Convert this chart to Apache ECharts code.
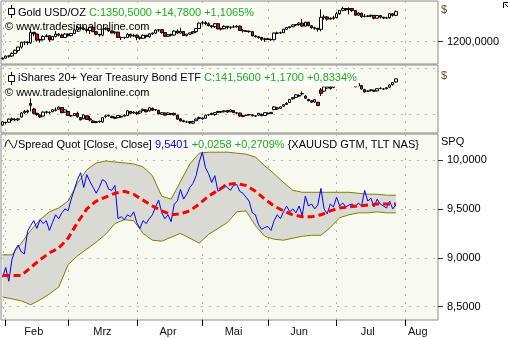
<!DOCTYPE html>
<html><head><meta charset="utf-8">
<script src="https://cdn.jsdelivr.net/npm/echarts@6/dist/echarts.min.js"></script>
<style>html,body{margin:0;padding:0;background:#fff}#c{width:509px;height:339px}</style>
</head><body><div id="c"></div>
<script>
// ---------- categories ----------
const holidays = ['2016-02-15','2016-03-25','2016-05-30','2016-07-04'];
function fmtDate(t){ return new Date(t).toISOString().slice(0,10); }
const tradingDays = [];
for (let t = Date.UTC(2016,0,29); t <= Date.UTC(2016,6,29); t += 86400000) {
  const wd = new Date(t).getUTCDay(), s = fmtDate(t);
  if (wd !== 0 && wd !== 6 && holidays.indexOf(s) < 0) tradingDays.push(s);
}
const futureDays = [];
for (let t = Date.UTC(2016,6,30); t <= Date.UTC(2016,7,11); t += 86400000) futureDays.push(fmtDate(t));
const categories = tradingDays.concat(futureDays);

const monthStarts = ['2016-02-01','2016-03-01','2016-04-01','2016-05-02','2016-06-01','2016-07-01','2016-08-01'];
const monthLabels = {'2016-02-12':'Feb','2016-03-16':'Mrz','2016-04-15':'Apr','2016-05-16':'Mai','2016-06-15':'Jun','2016-07-18':'Jul','2016-08-05':'Aug'};

// ---------- Gold USD/OZ ----------
const goldOpen = [1114,1117,1128,1128,1141,1156,1173,1197,1198,1194,1247,1238,1208,1210,1226,1230,1209,1226,1238,1233,1221,
1238,1230,1241,1259,1270,1267,1262,1256,1272,1250,1237,1233,1263,1266,1254,1244,1248,1221,1220,1221,1237,1228,
1232,1222,1217,1232,1225,1239,1243,1258,1260,1246,1227,1235,1233,1253,1243,1251,1231,1238,1244,1250,1266,
1293,1295,1290,1280,1275,1290,1264,1265,1277,1272,1273,1274,1278,1256,1254,1252,1250,1229,1225,1221,1212,
1214,1211,1210,1243,1243,1245,1262,1271,1275,1284,1286,1293,1278,1298,1280,1270,1267,1262,1322,1324,1313,1317,
1320,1340,1357,1366,1360,1366,1356,1333,1343,1325,1327,1329,1332,1318,1331,1323,1318,1320,1340,1332];
const goldHigh = [1121,1130,1131,1146,1160,1174,1200,1200,1201,1263,1248,1240,1215,1232,1237,1231,1229,1253,1244,1240,1243,
1241,1244,1262,1278,1280,1277,1264,1274,1276,1254,1238,1263,1272,1267,1256,1252,1249,1226,1225,1244,1240,1240,
1236,1225,1236,1233,1243,1246,1261,1263,1262,1248,1237,1240,1257,1262,1270,1254,1238,1245,1252,1268,1296,
1304,1303,1297,1283,1294,1291,1270,1282,1278,1276,1283,1284,1281,1262,1257,1256,1251,1232,1227,1224,1219,
1219,1216,1246,1250,1250,1264,1274,1277,1287,1288,1298,1315,1299,1299,1283,1275,1268,1362,1335,1327,1323,1329,
1350,1359,1375,1369,1372,1368,1357,1348,1345,1338,1333,1336,1332,1334,1332,1323,1325,1342,1343,1356];
const goldLow = [1111,1115,1120,1123,1139,1146,1165,1183,1183,1190,1227,1200,1195,1206,1222,1200,1208,1222,1226,1219,1218,
1225,1227,1238,1253,1262,1257,1245,1239,1248,1232,1225,1227,1257,1250,1241,1237,1220,1208,1213,1218,1220,1225,
1207,1210,1213,1216,1220,1233,1240,1249,1240,1225,1225,1227,1231,1240,1242,1230,1226,1235,1238,1243,1264,
1285,1282,1277,1267,1268,1262,1256,1262,1263,1263,1268,1271,1254,1246,1248,1245,1227,1221,1215,1205,1199,
1209,1204,1207,1238,1240,1243,1258,1266,1273,1278,1280,1275,1276,1278,1265,1260,1250,1252,1310,1306,1311,1310,
1318,1335,1352,1354,1337,1350,1330,1330,1320,1324,1323,1323,1312,1316,1316,1313,1314,1315,1326,1330];
const goldClose = [1118,1128,1128,1141,1157,1173,1197,1198,1194,1247,1239,1208,1210,1226,1230,1209,1226,1238,1233,1221,1238,
1230,1241,1259,1270,1267,1262,1256,1272,1250,1237,1233,1263,1266,1254,1244,1248,1221,1220,1221,1237,1228,1232,
1222,1217,1232,1225,1239,1243,1258,1260,1246,1227,1235,1233,1253,1243,1251,1231,1238,1244,1250,1266,1293,
1295,1290,1280,1275,1290,1264,1265,1277,1272,1273,1274,1278,1256,1254,1252,1250,1229,1225,1221,1212,1214,
1211,1210,1243,1243,1245,1262,1271,1275,1284,1286,1293,1278,1298,1280,1270,1267,1262,1322,1324,1313,1317,1320,
1340,1357,1366,1360,1366,1356,1333,1343,1325,1327,1329,1332,1318,1331,1323,1318,1320,1340,1332,1350.5];

// ---------- iShares 20+ Year Treasury Bond ETF ----------
const tltOpen = [126.6,127.4,127.5,128.6,128.3,128.3,129.2,130.6,131.2,133.6,131.8,130.4,129.8,129.5,130.7,130.7,130.9,131.4,131.7,132.3,130.8,
131.0,129.6,129.7,130.4,129.0,128.6,129.6,128.6,127.9,127.4,127.8,127.6,129.4,129.6,129.4,129.1,129.0,129.2,129.5,129.7,131.0,130.5,
130.6,130.5,131.3,131.5,131.2,132.0,131.6,131.4,130.1,130.5,130.0,130.3,130.4,129.8,128.6,128.0,127.6,127.7,127.2,128.0,128.7,
128.9,128.8,129.9,130.0,130.0,130.7,131.0,130.9,131.3,130.9,131.3,130.5,130.5,129.4,129.7,129.9,129.9,129.6,129.8,130.1,129.7,
130.4,130.3,131.6,132.2,132.0,132.7,133.6,133.9,135.1,135.6,136.0,136.7,136.0,134.9,134.5,134.1,134.0,138.0,137.6,138.6,139.2,138.8,
140.0,141.6,142.9,143.2,143.5,142.7,140.6,139.3,139.4,138.1,137.6,137.9,137.9,137.7,138.5,138.3,138.4,138.9,139.7,140.6];
const tltHigh = [127.9,127.6,128.7,129.0,128.9,128.9,130.8,131.5,131.6,135.2,132.2,130.6,130.0,131.0,131.2,131.0,131.8,132.3,132.6,132.4,131.7,
131.2,129.9,130.5,130.9,129.2,130.0,129.7,129.5,128.2,127.9,128.0,129.2,129.8,130.0,129.6,129.3,129.8,129.7,130.0,131.3,131.1,131.0,
131.0,131.2,131.9,131.6,132.5,132.3,131.8,131.5,130.8,130.6,130.7,130.4,130.6,129.9,128.9,128.3,128.0,127.8,128.0,128.7,129.3,
129.0,130.0,130.2,130.6,130.8,131.2,131.1,131.4,131.4,131.7,131.4,130.8,130.6,129.8,130.0,130.2,130.0,129.8,130.5,130.3,130.7,
130.7,130.8,132.7,132.3,132.6,133.3,134.1,135.0,135.6,136.5,136.6,137.5,136.3,135.1,134.7,134.9,134.1,138.6,139.2,139.3,139.5,140.3,
141.1,142.9,143.6,143.4,144.0,142.9,140.8,140.3,139.6,138.4,137.9,138.2,138.0,138.6,138.8,138.6,138.9,139.8,140.5,141.7];
const tltLow = [126.3,126.8,127.3,127.9,127.8,127.9,129.0,130.2,130.4,131.0,130.1,129.6,128.9,129.4,130.3,130.2,130.8,131.0,131.5,130.4,130.6,
129.5,129.2,129.5,129.0,128.1,128.5,128.3,127.8,127.2,127.2,127.3,127.3,128.8,129.3,128.8,128.5,128.8,129.0,129.3,129.5,130.2,130.3,
129.8,130.3,131.0,130.7,131.0,131.2,131.2,130.1,129.9,129.7,129.9,129.8,129.7,128.3,127.8,127.5,127.2,126.9,126.9,127.9,128.4,
128.3,128.7,129.5,129.8,129.6,130.5,130.5,130.7,130.5,130.8,130.5,130.1,129.3,129.1,129.5,129.7,129.4,129.2,129.7,129.5,129.6,
130.0,130.2,131.4,131.5,131.9,132.5,133.1,133.8,134.8,135.4,135.7,136.2,135.2,134.3,133.8,133.8,132.8,136.0,137.4,138.4,138.1,138.6,
139.9,141.5,142.2,142.4,142.6,141.3,138.9,139.1,138.2,137.2,137.3,137.5,137.3,137.5,138.2,138.0,138.2,138.6,139.5,140.4];
const tltClose = [127.6,127.3,128.5,128.3,128.4,128.6,130.5,131.0,130.8,133.0,130.4,130.0,129.2,130.8,130.9,130.7,131.6,131.5,132.4,130.6,131.5,
129.7,129.6,130.3,129.3,128.3,129.9,128.4,128.2,127.4,127.7,127.7,129.0,129.5,129.8,129.0,128.8,129.7,129.4,129.8,131.2,130.4,130.8,
130.3,131.1,131.7,130.9,132.2,131.4,131.5,130.2,130.6,129.8,130.5,130.1,129.9,128.5,127.9,127.7,127.6,127.3,127.7,128.5,129.0,
128.6,129.8,129.9,130.4,130.6,131.0,130.8,131.2,130.8,131.5,130.6,130.6,129.5,129.6,129.8,130.0,129.6,129.5,130.4,129.6,130.6,
130.3,130.7,132.5,131.8,132.5,133.2,133.3,134.9,135.5,136.4,136.2,136.8,135.3,134.5,134.0,134.8,132.9,136.9,139.0,139.0,138.5,140.1,
140.9,142.8,143.0,142.8,143.3,141.5,139.0,140.1,138.3,137.3,137.6,138.0,137.6,138.4,138.5,138.3,138.7,139.6,140.4,141.6];

// ---------- Spread Quot ----------
const spread = [8.80,8.90,8.76,8.98,9.08,9.13,9.06,9.04,9.27,9.33,9.38,9.30,9.39,9.35,9.38,9.28,9.36,9.44,9.40,9.46,9.50,
9.48,9.60,9.70,9.80,9.87,9.72,9.85,9.78,9.72,9.66,9.72,9.80,9.78,9.70,9.69,9.74,9.40,9.42,9.39,9.44,9.42,9.47,
9.36,9.30,9.38,9.35,9.40,9.44,9.52,9.59,9.46,9.40,9.44,9.37,9.55,9.58,9.70,9.60,9.65,9.72,9.76,9.84,9.98,
10.08,9.92,9.86,9.77,9.84,9.68,9.70,9.75,9.72,9.69,9.74,9.75,9.68,9.66,9.62,9.58,9.46,9.44,9.34,9.29,9.31,
9.32,9.28,9.38,9.44,9.40,9.47,9.53,9.47,9.50,9.46,9.53,9.43,9.63,9.53,9.55,9.50,9.54,9.71,9.50,9.45,9.55,9.52,
9.62,9.53,9.56,9.52,9.54,9.55,9.52,9.56,9.53,9.69,9.58,9.61,9.52,9.60,9.55,9.53,9.51,9.58,9.50,9.54];

const bandDates = ['2016-01-29','2016-02-03','2016-02-08','2016-02-11','2016-02-17','2016-02-22','2016-02-25','2016-03-01','2016-03-04','2016-03-09','2016-03-14',
'2016-03-17','2016-03-22','2016-03-28','2016-03-31','2016-04-05','2016-04-08','2016-04-13','2016-04-18','2016-04-21','2016-04-26','2016-04-29',
'2016-05-04','2016-05-09','2016-05-12','2016-05-17','2016-05-20','2016-05-25','2016-05-31','2016-06-03','2016-06-08','2016-06-13','2016-06-16',
'2016-06-21','2016-06-24','2016-06-29','2016-07-05','2016-07-08','2016-07-13','2016-07-18','2016-07-21','2016-07-26','2016-07-29'];
const bandUpper = [9.03,9.03,9.15,9.28,9.39,9.47,9.51,9.58,9.76,9.90,9.97,9.99,9.98,9.97,9.96,9.93,9.84,9.63,9.60,9.78,9.96,10.07,
10.08,10.08,10.08,10.07,10.06,10.03,9.94,9.86,9.77,9.69,9.67,9.67,9.67,9.67,9.67,9.67,9.66,9.65,9.65,9.64,9.64];
const bandLower = [8.60,8.58,8.56,8.52,8.57,8.63,8.70,8.93,9.02,9.09,9.16,9.24,9.35,9.39,9.38,9.25,9.18,9.17,9.21,9.25,9.20,9.15,
9.24,9.30,9.36,9.47,9.48,9.33,9.22,9.19,9.18,9.20,9.22,9.23,9.23,9.31,9.41,9.44,9.46,9.46,9.47,9.46,9.46];
const bandMid = [8.82,8.82,8.82,8.90,8.98,9.05,9.10,9.20,9.36,9.50,9.58,9.62,9.66,9.68,9.65,9.59,9.53,9.48,9.44,9.45,9.48,9.55,
9.63,9.69,9.75,9.76,9.74,9.68,9.60,9.53,9.48,9.44,9.42,9.42,9.44,9.48,9.51,9.52,9.53,9.54,9.55,9.55,9.55];

const goldTicks = [1200];
const tltGrid = [130, 145];
const spreadTicks = [8.5, 9, 9.5, 10];

// ---------- chart ----------
const FONT = 'Liberation Sans';
const numFmt = v => v.toFixed(4).replace('.', ',');
const isMonthStart = (i, v) => monthStarts.indexOf(v) >= 0;
const dotted = {color: '#b4b4b4', width: 1, type: [2, 6]};
const gridBase = {left: 1, right: 71, show: true, backgroundColor: '#f8faf0', borderColor: '#8c8c8c', borderWidth: 1};

const xAxes = [0, 1, 2].map(i => ({
  type: 'category', gridIndex: i, data: categories, boundaryGap: true,
  axisLine: {show: false},
  axisTick: {show: i === 2, alignWithLabel: true, interval: isMonthStart, length: 6, lineStyle: {color: '#000'}},
  axisLabel: {show: i === 2, interval: (idx, v) => !!monthLabels[v], formatter: v => monthLabels[v] || '',
              color: '#111', fontFamily: FONT, fontSize: 11, margin: 6},
  splitLine: {show: true, interval: isMonthStart, alignWithLabel: true, lineStyle: dotted}
}));

const candleStyle = {color: '#ffffff', color0: '#e00000', borderColor: '#000000', borderColor0: '#000000', borderWidth: 1};

const option = {
  animation: false,
  backgroundColor: '#ffffff',
  textStyle: {fontFamily: FONT},
  grid: [
    Object.assign({top: 1, height: 63}, gridBase),
    Object.assign({top: 65, height: 68}, gridBase),
    Object.assign({top: 134, height: 186}, gridBase)
  ],
  xAxis: xAxes,
  yAxis: [
    {type: 'value', gridIndex: 0, position: 'right', min: 1088, max: 1404,
     axisLine: {show: false},
     axisTick: {show: true, customValues: goldTicks, length: 5, lineStyle: {color: '#333'}},
     axisLabel: {customValues: goldTicks, formatter: numFmt, color: '#000', fontFamily: FONT, fontSize: 11, margin: 9},
     splitLine: {show: true, lineStyle: dotted}},
    {type: 'value', gridIndex: 1, position: 'right', min: 124, max: 146.1,
     axisLine: {show: false},
     axisTick: {show: false, customValues: tltGrid},
     axisLabel: {show: false, customValues: tltGrid},
     splitLine: {show: true, lineStyle: dotted}},
    {type: 'value', gridIndex: 2, position: 'right', min: 8.364, max: 10.266,
     axisLine: {show: false},
     axisTick: {show: true, customValues: spreadTicks, length: 5, lineStyle: {color: '#333'}},
     axisLabel: {customValues: spreadTicks, formatter: numFmt, color: '#000', fontFamily: FONT, fontSize: 11, margin: 9},
     splitLine: {show: true, lineStyle: dotted}}
  ],
  series: [
    {type: 'candlestick', xAxisIndex: 0, yAxisIndex: 0, barWidth: 3, itemStyle: candleStyle,
     data: tradingDays.map((d, i) => [goldOpen[i], goldClose[i], goldLow[i], goldHigh[i]])},
    {type: 'candlestick', xAxisIndex: 1, yAxisIndex: 1, barWidth: 3, itemStyle: candleStyle,
     data: tradingDays.map((d, i) => [tltOpen[i], tltClose[i], tltLow[i], tltHigh[i]])},
    {type: 'line', xAxisIndex: 2, yAxisIndex: 2, stack: 'bb', symbol: 'none', silent: true,
     lineStyle: {opacity: 0}, data: bandDates.map((d, i) => [d, bandLower[i]])},
    {type: 'line', xAxisIndex: 2, yAxisIndex: 2, stack: 'bb', symbol: 'none', silent: true,
     lineStyle: {opacity: 0}, areaStyle: {color: '#d9dad4', opacity: 1},
     data: bandDates.map((d, i) => [d, +(bandUpper[i] - bandLower[i]).toFixed(4)])},
    {type: 'line', xAxisIndex: 2, yAxisIndex: 2, symbol: 'none', lineStyle: {color: '#808000', width: 1},
     data: bandDates.map((d, i) => [d, bandUpper[i]])},
    {type: 'line', xAxisIndex: 2, yAxisIndex: 2, symbol: 'none', lineStyle: {color: '#808000', width: 1},
     data: bandDates.map((d, i) => [d, bandLower[i]])},
    {type: 'line', xAxisIndex: 2, yAxisIndex: 2, symbol: 'none', lineStyle: {color: '#0000ff', width: 1},
     data: tradingDays.map((d, i) => [d, spread[i]])},
    {type: 'line', xAxisIndex: 2, yAxisIndex: 2, symbol: 'none', z: 4,
     lineStyle: {color: '#ff0000', width: 3, type: [7, 4], cap: 'butt'},
     data: bandDates.map((d, i) => [d, bandMid[i]])}
  ],
  graphic: [
    {type: 'line', z: 1, shape: {x1: 3.5, y1: 3, x2: 3.5, y2: 319}, style: {stroke: '#b4b4b4', lineWidth: 1, lineDash: [2, 6]}},
    {type: 'line', z: 10, shape: {x1: 11.5, y1: 5, x2: 11.5, y2: 18}, style: {stroke: '#000', lineWidth: 1}},
    {type: 'rect', z: 11, shape: {x: 8.5, y: 8.5, width: 6, height: 6}, style: {fill: '#fff', stroke: '#000', lineWidth: 1}},
    {type: 'text', z: 10, x: 17, y: 12, style: {
      text: 'Gold USD/OZ {g|C:1350,5000 +14,7800 +1,1065%}', fill: '#000', fontFamily: FONT, fontSize: 11,
      verticalAlign: 'middle', backgroundColor: '#fdfefa', padding: [2, 2, 1, 1],
      rich: {g: {fill: '#1aad1a', fontFamily: FONT, fontSize: 11}}}},
    {type: 'text', z: 1, x: 5, y: 27, style: {text: '\u00a9 www.tradesignalonline.com', fill: '#000', fontFamily: FONT, fontSize: 11, verticalAlign: 'middle'}},
    {type: 'line', z: 10, shape: {x1: 11.5, y1: 72, x2: 11.5, y2: 85}, style: {stroke: '#000', lineWidth: 1}},
    {type: 'rect', z: 11, shape: {x: 8.5, y: 75.5, width: 6, height: 6}, style: {fill: '#fff', stroke: '#000', lineWidth: 1}},
    {type: 'text', z: 10, x: 17, y: 78, style: {
      text: 'iShares 20+ Year Treasury Bond ETF {g|C:141,5600 +1,1700 +0,8334%}', fill: '#000', fontFamily: FONT, fontSize: 11,
      verticalAlign: 'middle', backgroundColor: '#fdfefa', padding: [3, 2, 3, 1],
      rich: {g: {fill: '#1aad1a', fontFamily: FONT, fontSize: 11}}}},
    {type: 'text', z: 1, x: 5, y: 93, style: {text: '\u00a9 www.tradesignalonline.com', fill: '#000', fontFamily: FONT, fontSize: 11, verticalAlign: 'middle'}},
    {type: 'polyline', z: 11, shape: {points: [[5, 147], [8, 140], [11, 144], [14, 148], [17, 140]], smooth: 0.5}, style: {stroke: '#000', lineWidth: 1, fill: null}},
    {type: 'text', z: 10, x: 17, y: 144, style: {
      text: 'Spread Quot [Close, Close] {b|9,5401} {g|+0,0258 +0,2709%} {XAUUSD GTM, TLT NAS}', fill: '#000', fontFamily: FONT, fontSize: 11,
      verticalAlign: 'middle', backgroundColor: '#fdfefa', padding: [2, 2, 1, 1],
      rich: {g: {fill: '#1aad1a', fontFamily: FONT, fontSize: 11}, b: {fill: '#0000ff', fontFamily: FONT, fontSize: 11}}}},
    {type: 'text', x: 441, y: 10, style: {text: '$', fill: '#6b4a10', fontFamily: FONT, fontSize: 11, verticalAlign: 'middle'}},
    {type: 'text', x: 441, y: 76, style: {text: '$', fill: '#6b4a10', fontFamily: FONT, fontSize: 11, verticalAlign: 'middle'}},
    {type: 'text', x: 441, y: 142, style: {text: 'SPQ', fill: '#000', fontFamily: FONT, fontSize: 11, verticalAlign: 'middle'}},
    {type: 'polyline', shape: {points: [[503.5, 8], [503.5, 2.5], [508, 2.5]]}, style: {stroke: '#000', lineWidth: 1, fill: null}},
    {type: 'line', shape: {x1: 505, y1: 4, x2: 508, y2: 7}, style: {stroke: '#000', lineWidth: 1}}
  ]
};

const chart = echarts.init(document.getElementById('c'), null, {renderer: 'canvas', width: 509, height: 339});
chart.setOption(option);
</script>
</body></html>
